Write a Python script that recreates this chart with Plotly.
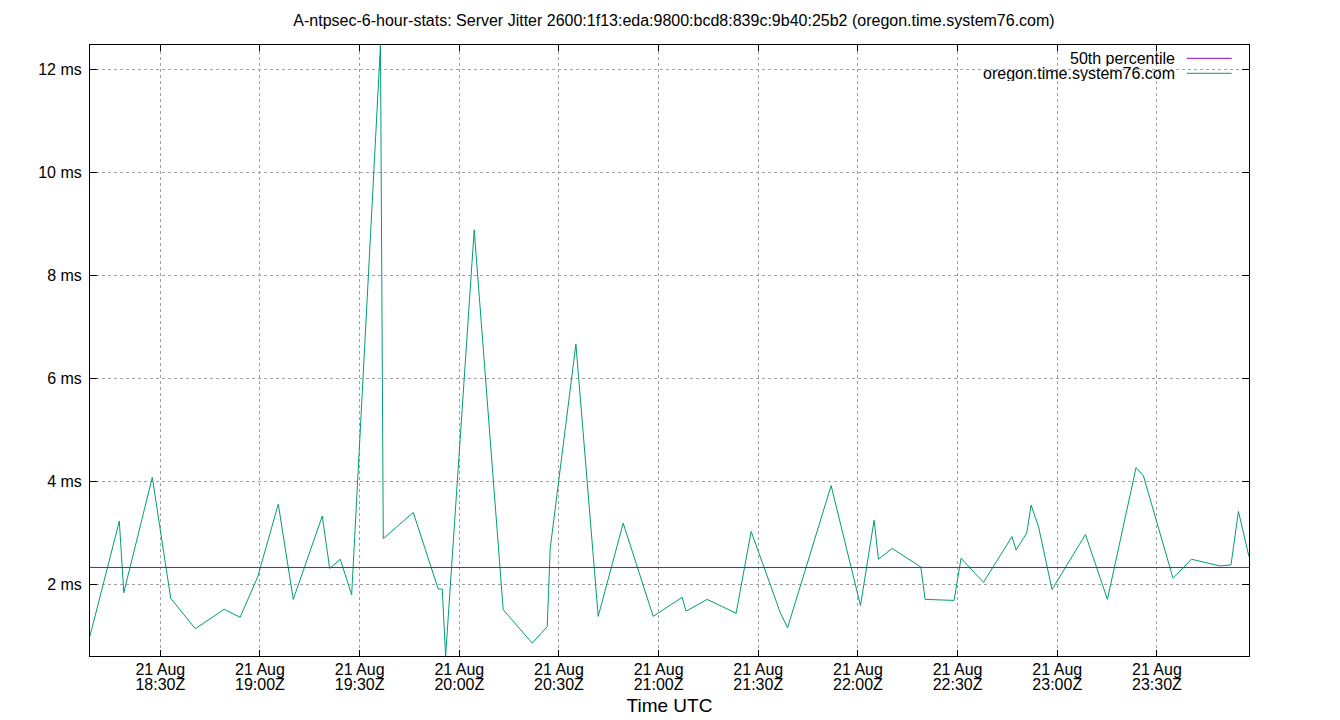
import plotly.graph_objects as go

# sample times (UTC, 21 Aug) and server jitter in ms
times = [
    "18:08:50", "18:17:40", "18:19:00", "18:27:35", "18:33:08", "18:40:32",
    "18:49:16", "18:54:00", "18:59:19", "19:05:31", "19:10:01", "19:18:45",
    "19:20:59", "19:24:10", "19:27:36", "19:36:16", "19:37:07", "19:46:08",
    "19:53:40", "19:54:52", "19:55:53", "20:04:29", "20:13:13", "20:21:57",
    "20:26:28", "20:27:22", "20:35:06", "20:41:49", "20:49:20", "20:58:22",
    "21:07:05", "21:08:17", "21:14:37", "21:23:20", "21:27:51", "21:36:42",
    "21:38:49", "21:51:56", "22:00:46", "22:04:52", "22:06:11", "22:10:17",
    "22:18:55", "22:20:13", "22:28:56", "22:31:03", "22:37:47", "22:46:23",
    "22:47:36", "22:50:49", "22:52:07", "22:54:20", "22:58:26", "23:08:29",
    "23:15:06", "23:23:43", "23:25:56", "23:34:51", "23:40:23", "23:48:54",
    "23:52:18", "23:54:32", "23:57:43",
]
jitter_ms = [
    1.00, 3.23, 1.84, 4.08, 1.73, 1.14,
    1.52, 1.36, 2.15, 3.56, 1.71, 3.33,
    2.31, 2.49, 1.80, 12.48, 2.89, 3.40,
    1.91, 1.91, 0.61, 8.89, 1.51, 0.86,
    1.18, 2.70, 6.67, 1.38, 3.19, 1.38,
    1.75, 1.48, 1.71, 1.44, 3.03, 1.44,
    1.16, 3.92, 1.59, 3.25, 2.49, 2.70,
    2.34, 1.71, 1.69, 2.51, 2.04, 2.93,
    2.67, 3.00, 3.54, 3.13, 1.90, 2.97,
    1.71, 4.27, 4.11, 2.12, 2.49, 2.36,
    2.38, 3.42, 2.54,
]
p50_ms = 2.33

tick_times = ["18:30", "19:00", "19:30", "20:00", "20:30", "21:00",
              "21:30", "22:00", "22:30", "23:00", "23:30"]
y_ticks = [2, 4, 6, 8, 10, 12]

day = "2023-08-21 "
x = [day + t for t in times]
xticks = [day + t for t in tick_times]

FONT = "Liberation Sans, Arial, sans-serif"

fig = go.Figure()

# median line sits on the overlay axis that carries the date row of the labels
fig.add_trace(go.Scatter(
    x=[x[0], x[-1]], y=[p50_ms, p50_ms], xaxis="x2",
    mode="lines", name="50th percentile",
    line=dict(color="#9400d3", width=1),
))
fig.add_trace(go.Scatter(
    x=x, y=jitter_ms,
    mode="lines", name="oregon.time.system76.com",
    line=dict(color="#009e73", width=1),
))

# page has an 8px body margin, so the figure is a bit smaller than the window
fig.update_layout(
    width=1332, height=712,
    margin=dict(l=82, r=90.7, t=37, b=64),
    paper_bgcolor="white", plot_bgcolor="white",
    font=dict(family=FONT, size=16, color="black"),
    showlegend=False,
    title=dict(
        text="A-ntpsec-6-hour-stats: Server Jitter 2600:1f13:eda:9800:bcd8:839c:9b40:25b2 (oregon.time.system76.com)",
        x=0.5, xanchor="center", y=1 - 12 / 712, yanchor="middle",
        font=dict(family=FONT, size=16),
    ),
    xaxis=dict(
        range=[x[0], x[-1]],
        tickvals=xticks, tickformat="%H:%MZ", ticklabelstandoff=14,
        ticks="inside", ticklen=6, tickcolor="black",
        showline=True, linecolor="black", linewidth=1, mirror="ticks",
        showgrid=True, gridcolor="#a0a0a0", griddash="dot", gridwidth=1,
        zeroline=False, automargin=False,
        title=dict(text="Time UTC", standoff=6),
    ),
    xaxis2=dict(
        overlaying="x", anchor="y", side="bottom",
        range=[x[0], x[-1]],
        tickvals=xticks, tickformat="%d %b", ticklabelstandoff=2,
        ticks="", showline=False, showgrid=False, zeroline=False,
        automargin=False,
    ),
    yaxis=dict(
        range=[min(jitter_ms), max(jitter_ms)],
        tickvals=y_ticks, ticktext=[f"{v} ms" for v in y_ticks],
        ticks="inside", ticklen=7, tickcolor="black", ticklabelstandoff=4,
        showline=True, linecolor="black", linewidth=1, mirror="ticks",
        showgrid=True, gridcolor="#a0a0a0", griddash="dot", gridwidth=1,
        zeroline=False, automargin=False,
    ),
)

# gnuplot style key: label then sample line, top right inside the plot
key_rows = [("50th percentile", "#9400d3"), ("oregon.time.system76.com", "#009e73")]
for i, (label, color) in enumerate(key_rows):
    yk = 1 - (13.3 + 15 * i) / 611
    fig.add_annotation(
        xref="paper", yref="paper", x=(1177.7 - 90) / 1159.3, y=yk,
        text=label, showarrow=False, xanchor="right", yanchor="middle",
        height=15, font=dict(family=FONT, size=16),
    )
    fig.add_shape(
        type="line", xref="paper", yref="paper",
        x0=(1187 - 90) / 1159.3, x1=(1232 - 90) / 1159.3, y0=yk, y1=yk,
        line=dict(color=color, width=1),
    )

fig.write_html("out.html")
